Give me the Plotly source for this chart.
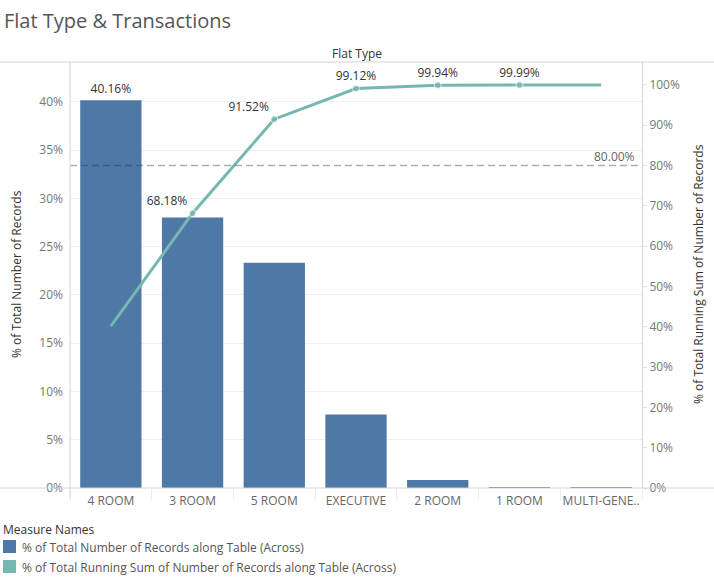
import plotly.graph_objects as go

categories = ["4 ROOM", "3 ROOM", "5 ROOM", "EXECUTIVE", "2 ROOM", "1 ROOM", "MULTI-GENE.."]
pct_of_total = [40.16, 28.02, 23.34, 7.60, 0.82, 0.05, 0.01]
running_pct = [40.16, 68.18, 91.52, 99.12, 99.94, 99.99, 100.00]
bar_labels = ["40.16%", "", "", "", "", "", ""]
line_labels = ["", "68.18%", "91.52%", "99.12%", "99.94%", "99.99%", ""]
line_label_pos = ["top center", "top left", "top left", "top center", "top center", "top center", "top center"]
show_marker = [False, True, True, True, True, True, False]
pareto_threshold = 80.0

BAR_COLOR = "#4e79a7"
LINE_COLOR = "#76b7b2"
FONT = "Open Sans"

W, H = 714, 578
L, R, T, B = 70, 72, 62, 90
PW = W - L - R
PH = H - T - B


def px_x(x):
    return (x - L) / PW


def px_y(y):
    return (H - B - y) / PH


fig = go.Figure()
fig.add_trace(go.Bar(
    x=categories, y=pct_of_total, marker_color=BAR_COLOR, marker_line_width=0,
    text=bar_labels, textposition="outside", cliponaxis=False,
    textfont=dict(family=FONT, size=12, color="#333"),
    showlegend=False, hoverinfo="x+y",
))
fig.add_trace(go.Scatter(
    x=categories, y=running_pct, yaxis="y2", mode="lines+markers+text",
    line=dict(color=LINE_COLOR, width=3),
    marker=dict(color=LINE_COLOR, size=[7 if s else 0 for s in show_marker]),
    text=line_labels, textposition=line_label_pos,
    textfont=dict(family=FONT, size=12, color="#333"),
    cliponaxis=False, showlegend=False,
))

shapes = []
# 80% reference line
shapes.append(dict(type="line", xref="paper", x0=0, x1=1, yref="y2", y0=pareto_threshold, y1=pareto_threshold,
                   line=dict(color="rgba(50,50,50,0.4)", width=1.5, dash="7px,4px"), layer="above"))
# top and bottom full-width rules
for yy in (T, H - B):
    shapes.append(dict(type="line", xref="paper", yref="paper", x0=px_x(0), x1=px_x(W), y0=px_y(yy), y1=px_y(yy),
                       line=dict(color="#d4d4d4", width=1), layer="above"))
# left axis line extends slightly below
shapes.append(dict(type="line", xref="paper", yref="paper", x0=0, x1=0, y0=px_y(T), y1=px_y(H - B + 10),
                   line=dict(color="#d4d4d4", width=1), layer="above"))
# legend swatches
shapes.append(dict(type="rect", xref="paper", yref="paper", x0=px_x(3), x1=px_x(16), y0=px_y(540), y1=px_y(553),
                   fillcolor=BAR_COLOR, line_width=0))
shapes.append(dict(type="rect", xref="paper", yref="paper", x0=px_x(3), x1=px_x(16), y0=px_y(560), y1=px_y(573),
                   fillcolor=LINE_COLOR, line_width=0))

annotations = [
    dict(text="Flat Type", xref="paper", yref="paper", x=px_x(357), y=px_y(53), showarrow=False,
         font=dict(family=FONT, size=12, color="#333"), xanchor="center", yanchor="middle"),
    dict(text="80.00%", xref="paper", yref="paper", x=px_x(637), y=px_y(156), showarrow=False,
         font=dict(family=FONT, size=12, color="#666"), xanchor="right", yanchor="middle"),
    dict(text="% of Total Number of Records", xref="paper", yref="paper", x=px_x(16), y=px_y(274),
         textangle=-90, showarrow=False, font=dict(family=FONT, size=12, color="#333"),
         xanchor="center", yanchor="middle"),
    dict(text="% of Total Running Sum of Number of Records", xref="paper", yref="paper", x=px_x(698), y=px_y(274),
         textangle=-90, showarrow=False, font=dict(family=FONT, size=12, color="#333"),
         xanchor="center", yanchor="middle"),
    dict(text="Measure Names", xref="paper", yref="paper", x=px_x(1), y=px_y(529), showarrow=False,
         font=dict(family=FONT, size=12, color="#333"), xanchor="left", yanchor="middle"),
    dict(text="% of Total Number of Records along Table (Across)", xref="paper", yref="paper",
         x=px_x(20), y=px_y(547), showarrow=False,
         font=dict(family=FONT, size=12, color="#555"), xanchor="left", yanchor="middle"),
    dict(text="% of Total Running Sum of Number of Records along Table (Across)", xref="paper", yref="paper",
         x=px_x(20), y=px_y(567), showarrow=False,
         font=dict(family=FONT, size=12, color="#555"), xanchor="left", yanchor="middle"),
]

fig.update_layout(
    width=W, height=H,
    margin=dict(l=L, r=R, t=T, b=B),
    paper_bgcolor="white", plot_bgcolor="white",
    font=dict(family=FONT, size=12, color="#666"),
    title=dict(text="Flat Type & Transactions", x=4 / W, xanchor="left", y=1 - 21 / H, yanchor="middle",
               font=dict(family=FONT, size=20, color="#555")),
    bargap=0.25,
    xaxis=dict(range=[-0.5, 6.5], showgrid=False, tickson="boundaries", ticks="outside", ticklen=12,
               tickangle=0, tickcolor="#ececec", tickfont=dict(family=FONT, size=12, color="#666"),
               ticklabelstandoff=4, showline=False, zeroline=False, fixedrange=True),
    yaxis=dict(range=[0, 44.12], dtick=5, ticksuffix="%", showgrid=True, gridcolor="#efefef",
               zeroline=False, showline=False, ticks="", ticklabelstandoff=6,
               tickfont=dict(family=FONT, size=12, color="#777")),
    yaxis2=dict(range=[0, 105.7], dtick=10, ticksuffix="%", overlaying="y", side="right", showgrid=False,
                zeroline=False, showline=True, linecolor="#d4d4d4", ticks="outside", ticklen=4,
                tickcolor="#e0e0e0", tickfont=dict(family=FONT, size=12, color="#777")),
    shapes=shapes,
    annotations=annotations,
)

fig.write_html("out.html", config={"displayModeBar": False},
               post_script="document.body.style.margin='0';document.body.style.padding='0';")
